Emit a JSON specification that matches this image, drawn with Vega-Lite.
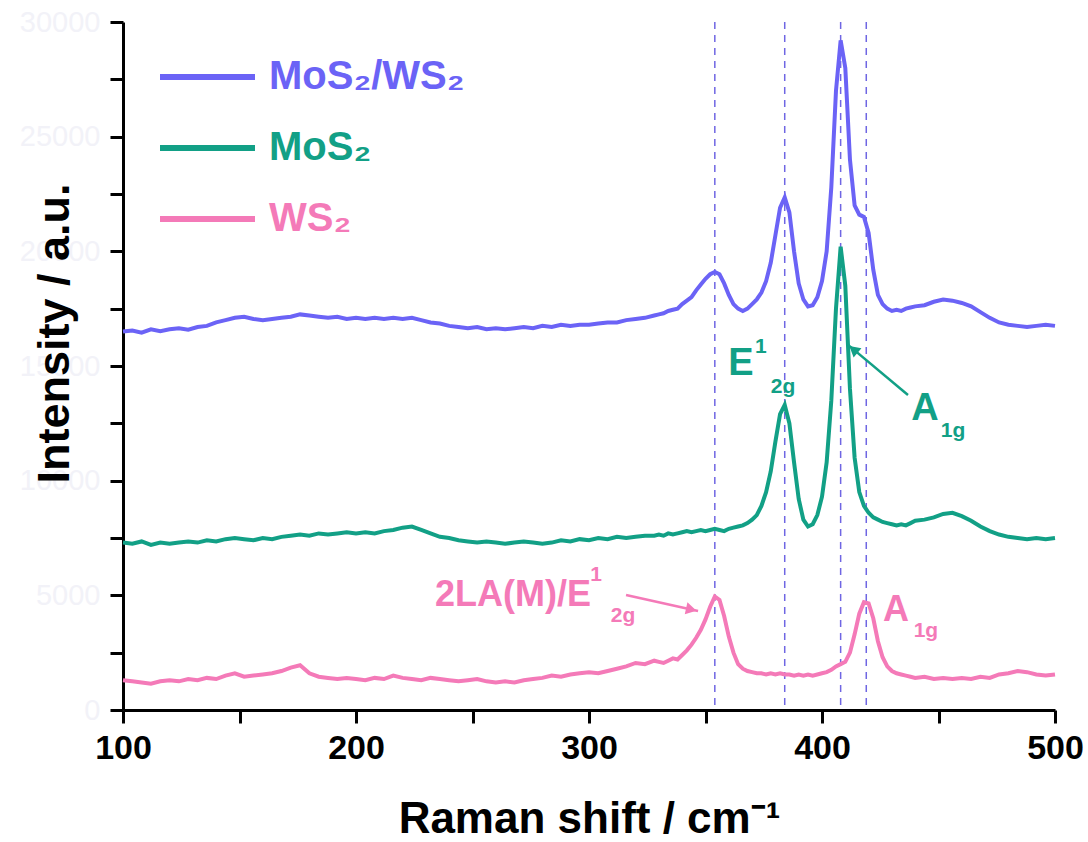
{
  "$schema": "https://vega.github.io/schema/vega-lite/v6.json",
  "autosize": {"type": "none"},
  "width": 932,
  "height": 688,
  "padding": {"left": 123, "top": 22, "right": 33, "bottom": 132},
  "background": "white",
  "config": {"font": "Liberation Sans", "view": {"stroke": null}},
  "datasets": {
    "spectra": [
      {"shift":100,"hetero":16500,"mos2":7300,"ws2":1300},
      {"shift":104,"hetero":16550,"mos2":7250,"ws2":1250},
      {"shift":108,"hetero":16450,"mos2":7350,"ws2":1200},
      {"shift":112,"hetero":16600,"mos2":7200,"ws2":1150},
      {"shift":116,"hetero":16520,"mos2":7300,"ws2":1250},
      {"shift":120,"hetero":16600,"mos2":7250,"ws2":1300},
      {"shift":124,"hetero":16650,"mos2":7300,"ws2":1250},
      {"shift":128,"hetero":16580,"mos2":7350,"ws2":1350},
      {"shift":132,"hetero":16700,"mos2":7300,"ws2":1300},
      {"shift":136,"hetero":16750,"mos2":7400,"ws2":1400},
      {"shift":140,"hetero":16900,"mos2":7350,"ws2":1350},
      {"shift":144,"hetero":17000,"mos2":7450,"ws2":1500},
      {"shift":148,"hetero":17100,"mos2":7500,"ws2":1600},
      {"shift":152,"hetero":17150,"mos2":7450,"ws2":1450},
      {"shift":156,"hetero":17050,"mos2":7400,"ws2":1500},
      {"shift":160,"hetero":17000,"mos2":7500,"ws2":1550},
      {"shift":164,"hetero":17050,"mos2":7450,"ws2":1600},
      {"shift":168,"hetero":17100,"mos2":7550,"ws2":1700},
      {"shift":172,"hetero":17150,"mos2":7600,"ws2":1850},
      {"shift":176,"hetero":17250,"mos2":7650,"ws2":1950},
      {"shift":180,"hetero":17200,"mos2":7600,"ws2":1600},
      {"shift":184,"hetero":17150,"mos2":7700,"ws2":1450},
      {"shift":188,"hetero":17100,"mos2":7650,"ws2":1400},
      {"shift":192,"hetero":17150,"mos2":7700,"ws2":1350},
      {"shift":196,"hetero":17050,"mos2":7750,"ws2":1400},
      {"shift":200,"hetero":17100,"mos2":7700,"ws2":1350},
      {"shift":204,"hetero":17050,"mos2":7750,"ws2":1300},
      {"shift":208,"hetero":17100,"mos2":7700,"ws2":1400},
      {"shift":212,"hetero":17050,"mos2":7800,"ws2":1350},
      {"shift":216,"hetero":17100,"mos2":7850,"ws2":1500},
      {"shift":220,"hetero":17050,"mos2":7950,"ws2":1400},
      {"shift":224,"hetero":17100,"mos2":8000,"ws2":1350},
      {"shift":228,"hetero":17000,"mos2":7850,"ws2":1300},
      {"shift":232,"hetero":16900,"mos2":7700,"ws2":1400},
      {"shift":236,"hetero":16850,"mos2":7550,"ws2":1350},
      {"shift":240,"hetero":16750,"mos2":7500,"ws2":1300},
      {"shift":244,"hetero":16700,"mos2":7400,"ws2":1250},
      {"shift":248,"hetero":16650,"mos2":7350,"ws2":1300},
      {"shift":252,"hetero":16700,"mos2":7300,"ws2":1350},
      {"shift":256,"hetero":16600,"mos2":7350,"ws2":1250},
      {"shift":260,"hetero":16650,"mos2":7300,"ws2":1200},
      {"shift":264,"hetero":16600,"mos2":7250,"ws2":1250},
      {"shift":268,"hetero":16650,"mos2":7300,"ws2":1200},
      {"shift":272,"hetero":16700,"mos2":7350,"ws2":1300},
      {"shift":276,"hetero":16650,"mos2":7300,"ws2":1350},
      {"shift":280,"hetero":16750,"mos2":7250,"ws2":1400},
      {"shift":284,"hetero":16700,"mos2":7300,"ws2":1500},
      {"shift":288,"hetero":16800,"mos2":7400,"ws2":1450},
      {"shift":292,"hetero":16750,"mos2":7350,"ws2":1550},
      {"shift":296,"hetero":16800,"mos2":7450,"ws2":1600},
      {"shift":300,"hetero":16800,"mos2":7400,"ws2":1650},
      {"shift":304,"hetero":16850,"mos2":7500,"ws2":1600},
      {"shift":308,"hetero":16900,"mos2":7450,"ws2":1700},
      {"shift":312,"hetero":16900,"mos2":7550,"ws2":1800},
      {"shift":316,"hetero":17000,"mos2":7500,"ws2":1900},
      {"shift":320,"hetero":17050,"mos2":7550,"ws2":2050},
      {"shift":324,"hetero":17100,"mos2":7600,"ws2":2000},
      {"shift":328,"hetero":17200,"mos2":7600,"ws2":2150},
      {"shift":330,"hetero":17250,"mos2":7650,"ws2":2100},
      {"shift":332,"hetero":17300,"mos2":7600,"ws2":2050},
      {"shift":334,"hetero":17400,"mos2":7700,"ws2":2150},
      {"shift":336,"hetero":17450,"mos2":7650,"ws2":2250},
      {"shift":338,"hetero":17500,"mos2":7700,"ws2":2200},
      {"shift":340,"hetero":17700,"mos2":7750,"ws2":2400},
      {"shift":342,"hetero":17850,"mos2":7800,"ws2":2600},
      {"shift":344,"hetero":18000,"mos2":7750,"ws2":2850},
      {"shift":346,"hetero":18300,"mos2":7800,"ws2":3150},
      {"shift":348,"hetero":18550,"mos2":7850,"ws2":3500},
      {"shift":350,"hetero":18800,"mos2":7800,"ws2":3950},
      {"shift":352,"hetero":19000,"mos2":7850,"ws2":4500},
      {"shift":354,"hetero":19100,"mos2":7900,"ws2":4950},
      {"shift":356,"hetero":19000,"mos2":7850,"ws2":4800},
      {"shift":358,"hetero":18600,"mos2":7800,"ws2":4100},
      {"shift":360,"hetero":18100,"mos2":7900,"ws2":3200},
      {"shift":362,"hetero":17700,"mos2":7950,"ws2":2500},
      {"shift":364,"hetero":17500,"mos2":8000,"ws2":2000},
      {"shift":366,"hetero":17400,"mos2":8050,"ws2":1800},
      {"shift":368,"hetero":17500,"mos2":8150,"ws2":1700},
      {"shift":370,"hetero":17700,"mos2":8300,"ws2":1650},
      {"shift":372,"hetero":17900,"mos2":8500,"ws2":1600},
      {"shift":374,"hetero":18200,"mos2":8900,"ws2":1600},
      {"shift":376,"hetero":18700,"mos2":9500,"ws2":1550},
      {"shift":378,"hetero":19500,"mos2":10400,"ws2":1600},
      {"shift":380,"hetero":20700,"mos2":11700,"ws2":1550},
      {"shift":382,"hetero":21900,"mos2":12900,"ws2":1600},
      {"shift":384,"hetero":22350,"mos2":13300,"ws2":1550},
      {"shift":386,"hetero":21700,"mos2":12500,"ws2":1550},
      {"shift":388,"hetero":20000,"mos2":10800,"ws2":1500},
      {"shift":390,"hetero":18600,"mos2":9200,"ws2":1550},
      {"shift":392,"hetero":17900,"mos2":8300,"ws2":1500},
      {"shift":394,"hetero":17600,"mos2":8000,"ws2":1550},
      {"shift":396,"hetero":17650,"mos2":8100,"ws2":1500},
      {"shift":398,"hetero":18000,"mos2":8500,"ws2":1550},
      {"shift":400,"hetero":18700,"mos2":9300,"ws2":1600},
      {"shift":402,"hetero":20000,"mos2":10800,"ws2":1650},
      {"shift":404,"hetero":22800,"mos2":13500,"ws2":1750},
      {"shift":406,"hetero":27000,"mos2":17500,"ws2":1900},
      {"shift":408,"hetero":29200,"mos2":20200,"ws2":2000},
      {"shift":410,"hetero":28000,"mos2":18500,"ws2":2100},
      {"shift":412,"hetero":24000,"mos2":14000,"ws2":2500},
      {"shift":414,"hetero":22000,"mos2":11000,"ws2":3300},
      {"shift":416,"hetero":21600,"mos2":9500,"ws2":4200},
      {"shift":418,"hetero":21500,"mos2":8900,"ws2":4700},
      {"shift":420,"hetero":20800,"mos2":8600,"ws2":4650},
      {"shift":422,"hetero":19200,"mos2":8400,"ws2":4000},
      {"shift":424,"hetero":18100,"mos2":8300,"ws2":3000},
      {"shift":426,"hetero":17700,"mos2":8200,"ws2":2300},
      {"shift":428,"hetero":17500,"mos2":8150,"ws2":1900},
      {"shift":430,"hetero":17400,"mos2":8100,"ws2":1700},
      {"shift":432,"hetero":17450,"mos2":8050,"ws2":1600},
      {"shift":434,"hetero":17400,"mos2":8100,"ws2":1550},
      {"shift":436,"hetero":17500,"mos2":8050,"ws2":1500},
      {"shift":438,"hetero":17550,"mos2":8150,"ws2":1450},
      {"shift":440,"hetero":17600,"mos2":8250,"ws2":1400},
      {"shift":444,"hetero":17650,"mos2":8300,"ws2":1450},
      {"shift":448,"hetero":17800,"mos2":8400,"ws2":1350},
      {"shift":452,"hetero":17900,"mos2":8550,"ws2":1400},
      {"shift":456,"hetero":17850,"mos2":8600,"ws2":1350},
      {"shift":460,"hetero":17750,"mos2":8450,"ws2":1400},
      {"shift":464,"hetero":17600,"mos2":8250,"ws2":1350},
      {"shift":468,"hetero":17350,"mos2":8000,"ws2":1450},
      {"shift":472,"hetero":17100,"mos2":7800,"ws2":1400},
      {"shift":476,"hetero":16900,"mos2":7650,"ws2":1550},
      {"shift":480,"hetero":16800,"mos2":7550,"ws2":1600},
      {"shift":484,"hetero":16750,"mos2":7500,"ws2":1700},
      {"shift":488,"hetero":16700,"mos2":7450,"ws2":1650},
      {"shift":492,"hetero":16750,"mos2":7500,"ws2":1550},
      {"shift":496,"hetero":16800,"mos2":7450,"ws2":1500},
      {"shift":500,"hetero":16750,"mos2":7500,"ws2":1550}
    ],
    "peaks": [{"shift":354},{"shift":384},{"shift":408},{"shift":419}],
    "notes": [
      {"label":"E","x":365.2,"y":15090,"group":"tealBig"},
      {"label":"1","x":373.8,"y":15830,"group":"tealSmall"},
      {"label":"2g","x":383.3,"y":14090,"group":"tealSmall"},
      {"label":"A","x":444.2,"y":13130,"group":"tealBig"},
      {"label":"1g","x":456.2,"y":12170,"group":"tealSmall"},
      {"label":"2LA(M)/E","x":267.4,"y":5015,"group":"pinkBig"},
      {"label":"1","x":303,"y":5887,"group":"pinkSmall"},
      {"label":"2g","x":314.6,"y":4100,"group":"pinkSmall"},
      {"label":"A","x":431.8,"y":4360,"group":"pinkBig"},
      {"label":"1g","x":444.6,"y":3445,"group":"pinkSmall"}
    ],
    "arrows": [
      {"x":436.9,"y":13737,"x2":411.2,"y2":15920,"hx":413.5,"hy":15720,"group":"teal"},
      {"x":315.9,"y":5015,"x2":346.8,"y2":4318,"hx":343.9,"hy":4383,"group":"pink"}
    ]
  },
  "layer": [
    {
      "data": {"name": "peaks"},
      "mark": {"type": "rule", "color": "#6f66e3", "strokeWidth": 1.5, "strokeDash": [7, 6]},
      "encoding": {
        "x": {"field": "shift", "type": "quantitative", "scale": {"domain": [100, 500], "nice": false}}
      }
    },
    {
      "data": {"name": "spectra"},
      "transform": [{"fold": ["hetero", "mos2", "ws2"], "as": ["sample", "intensity"]}],
      "mark": {"type": "line", "strokeWidth": 4},
      "encoding": {
        "x": {
          "field": "shift", "type": "quantitative",
          "scale": {"domain": [100, 500], "nice": false},
          "axis": {
            "values": [100,150,200,250,300,350,400,450,500],
            "format": "d",
            "labelExpr": "datum.value % 100 === 0 ? datum.label : ''",
            "grid": false,
            "domainColor": "black", "domainWidth": 3,
            "tickColor": "black", "tickWidth": 3, "tickSize": 13,
            "labelFontSize": 34, "labelFontWeight": "bold", "labelColor": "black",
            "labelPadding": 8, "labelFlush": false, "labelOverlap": false,
            "title": "Raman shift / cm⁻¹",
            "titleFontSize": 44, "titleFontWeight": "bold", "titleColor": "black",
            "titleY": 122, "titleBaseline": "alphabetic",
            "encode": {"ticks": {"update": {"y2": {"signal": "datum.value % 100 === 0 ? 13 : 7"}}}}
          }
        },
        "y": {
          "field": "intensity", "type": "quantitative",
          "scale": {"domain": [0, 30000], "nice": false},
          "axis": {
            "values": [0,2500,5000,7500,10000,12500,15000,17500,20000,22500,25000,27500,30000],
            "format": "d",
            "labelExpr": "datum.value % 5000 === 0 ? datum.label : ''",
            "grid": false,
            "domainColor": "black", "domainWidth": 3,
            "tickColor": "black", "tickWidth": 3, "tickSize": 13,
            "labelFontSize": 29, "labelColor": "#f2f2f8",
            "labelPadding": 10, "labelFlush": false, "labelOverlap": false,
            "title": "Intensity / a.u.",
            "titleFontSize": 45, "titleFontWeight": "bold", "titleColor": "black",
            "titleX": -55, "titleY": 311, "titleAngle": 270, "titleAlign": "center", "titleBaseline": "alphabetic",
            "encode": {
              "ticks": {"update": {"x2": {"signal": "datum.value % 5000 === 0 ? -13 : -7"}}},
              "labels": {"update": {"stroke": {"value": "#b9c3e6"}, "strokeWidth": {"value": 1}, "strokeOpacity": {"value": 1}}}
            }
          }
        },
        "color": {
          "field": "sample", "type": "nominal",
          "scale": {"domain": ["hetero", "mos2", "ws2"], "range": ["#6b63f6", "#12a086", "#f47ab8"]},
          "legend": {
            "orient": "none", "legendX": 34, "legendY": 35,
            "title": null,
            "symbolType": "stroke", "symbolSize": 9025, "symbolStrokeWidth": 6,
            "clipHeight": 40, "rowPadding": 31,
            "labelFontSize": 40, "labelFontWeight": "bold", "labelOffset": 11, "labelLimit": 0,
            "labelExpr": "datum.value === 'hetero' ? 'MoS₂/WS₂' : datum.value === 'mos2' ? 'MoS₂' : 'WS₂'",
            "encode": {"labels": {"update": {"fill": {"scale": "color", "field": "value"}}}}
          }
        }
      }
    },
    {
      "data": {"name": "arrows"},
      "transform": [{"filter": "datum.group === 'teal'"}],
      "mark": {"type": "rule", "color": "#12a086", "strokeWidth": 2.5},
      "encoding": {
        "x": {"field": "x", "type": "quantitative"},
        "y": {"field": "y", "type": "quantitative"},
        "x2": {"field": "x2"},
        "y2": {"field": "y2"}
      }
    },
    {
      "data": {"name": "arrows"},
      "transform": [{"filter": "datum.group === 'teal'"}],
      "mark": {"type": "point", "shape": "triangle-up", "filled": true, "color": "#12a086", "opacity": 1, "size": 150, "angle": 310},
      "encoding": {
        "x": {"field": "hx", "type": "quantitative"},
        "y": {"field": "hy", "type": "quantitative"}
      }
    },
    {
      "data": {"name": "arrows"},
      "transform": [{"filter": "datum.group === 'pink'"}],
      "mark": {"type": "rule", "color": "#f47ab8", "strokeWidth": 2.5},
      "encoding": {
        "x": {"field": "x", "type": "quantitative"},
        "y": {"field": "y", "type": "quantitative"},
        "x2": {"field": "x2"},
        "y2": {"field": "y2"}
      }
    },
    {
      "data": {"name": "arrows"},
      "transform": [{"filter": "datum.group === 'pink'"}],
      "mark": {"type": "point", "shape": "triangle-up", "filled": true, "color": "#f47ab8", "opacity": 1, "size": 150, "angle": 102.5},
      "encoding": {
        "x": {"field": "hx", "type": "quantitative"},
        "y": {"field": "hy", "type": "quantitative"}
      }
    },
    {
      "data": {"name": "notes"},
      "transform": [{"filter": "datum.group === 'tealBig'"}],
      "mark": {"type": "text", "color": "#12a086", "fontSize": 38, "fontWeight": "bold", "align": "center", "baseline": "middle"},
      "encoding": {
        "x": {"field": "x", "type": "quantitative"},
        "y": {"field": "y", "type": "quantitative"},
        "text": {"field": "label"}
      }
    },
    {
      "data": {"name": "notes"},
      "transform": [{"filter": "datum.group === 'tealSmall'"}],
      "mark": {"type": "text", "color": "#12a086", "fontSize": 21, "fontWeight": "bold", "align": "center", "baseline": "middle"},
      "encoding": {
        "x": {"field": "x", "type": "quantitative"},
        "y": {"field": "y", "type": "quantitative"},
        "text": {"field": "label"}
      }
    },
    {
      "data": {"name": "notes"},
      "transform": [{"filter": "datum.group === 'pinkBig'"}],
      "mark": {"type": "text", "color": "#f47ab8", "fontSize": 36, "fontWeight": "bold", "align": "center", "baseline": "middle"},
      "encoding": {
        "x": {"field": "x", "type": "quantitative"},
        "y": {"field": "y", "type": "quantitative"},
        "text": {"field": "label"}
      }
    },
    {
      "data": {"name": "notes"},
      "transform": [{"filter": "datum.group === 'pinkSmall'"}],
      "mark": {"type": "text", "color": "#f47ab8", "fontSize": 21, "fontWeight": "bold", "align": "center", "baseline": "middle"},
      "encoding": {
        "x": {"field": "x", "type": "quantitative"},
        "y": {"field": "y", "type": "quantitative"},
        "text": {"field": "label"}
      }
    }
  ]
}
